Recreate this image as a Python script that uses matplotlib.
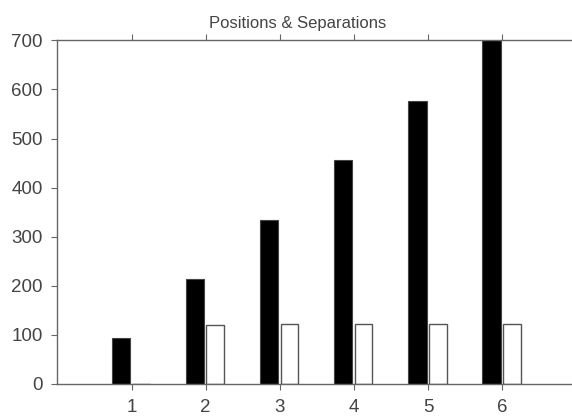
import matplotlib
matplotlib.use("Agg")

import numpy as np
import matplotlib.pyplot as plt

# values
groups = [1, 2, 3, 4, 5, 6]
positions = [94, 214, 334, 456, 577, 700]
separations = [0, 120, 122, 122, 122, 122]
title = "Positions & Separations"

plt.rcParams["font.family"] = ["Liberation Sans", "DejaVu Sans"]

fig = plt.figure(figsize=(5.72, 4.16), dpi=100)
ax = fig.add_axes([0.1005, 0.077, 0.907, 0.826])

x = np.array(groups)
ax.bar(x - 0.145, positions, width=0.25, color="black", edgecolor="#444444", linewidth=0.8)
ax.bar(x + 0.13, separations, width=0.24, color="white", edgecolor="#555555", linewidth=1.0)

ax.set_xlim(0, 7)
ax.set_ylim(0, 700)
ax.set_xticks(groups)
ax.set_yticks(range(0, 701, 100))

for side in ["left", "bottom", "top"]:
    ax.spines[side].set_color("#666666")
    ax.spines[side].set_linewidth(1.0)
ax.spines["right"].set_visible(False)

ax.tick_params(axis="x", direction="out", top=True, bottom=True, length=4.5,
               color="#666666", labelsize=13.5, labelcolor="#444444", pad=6)
ax.tick_params(axis="y", direction="out", left=True, length=4.5,
               color="#666666", labelsize=13.5, labelcolor="#444444", pad=6)

ax.set_title(title, fontsize=12, color="#444444", x=0.462, pad=9)

fig.savefig("out.png", dpi=100)
